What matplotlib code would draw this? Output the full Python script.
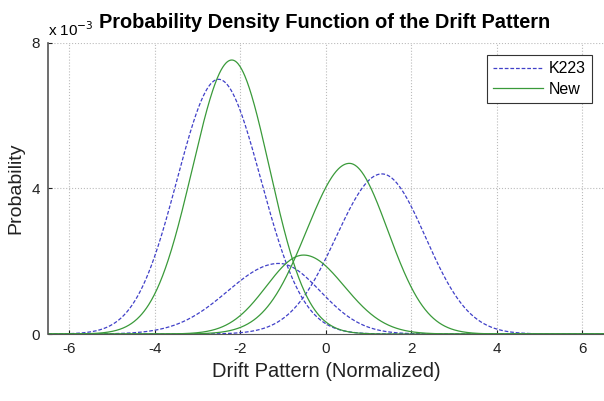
import numpy as np
import matplotlib
matplotlib.use("Agg")
import matplotlib.pyplot as plt

plt.rcParams["font.family"] = ["Liberation Sans", "DejaVu Sans"]

# Component parameters (peak in units of 1e-3);
# left / right spreads read separately since the curves are slightly skewed
k223_means = [-2.51, -1.10, 1.31]
k223_sig_left = [0.97, 1.20, 1.07]
k223_sig_right = [0.99, 0.97, 1.02]
k223_peaks = [7.0, 1.94, 4.4]

new_means = [-2.20, -0.52, 0.55]
new_sig_left = [0.92, 0.87, 1.00]
new_sig_right = [0.88, 0.95, 0.90]
new_peaks = [7.53, 2.17, 4.69]

xticks = [-6, -4, -2, 0, 2, 4, 6]
yticks = [0, 4, 8]

x = np.linspace(-6.5, 6.5, 1000)


def curve(m, sl, sr, p):
    s = np.where(x < m, sl, sr)
    return p * 1e-3 * np.exp(-(x - m) ** 2 / (2 * s ** 2))


fig = plt.figure(figsize=(6.04, 4.01), dpi=100)
ax = fig.add_axes([0.0795, 0.167, 0.92, 0.726])

blue = "#4040c8"
green = "#3a9a3a"
for i in range(len(k223_means)):
    ax.plot(x, curve(k223_means[i], k223_sig_left[i], k223_sig_right[i], k223_peaks[i]),
            color=blue, ls=(0, (3, 1.5)), lw=0.9, label="K223" if i == 0 else None)
for i in range(len(new_means)):
    ax.plot(x, curve(new_means[i], new_sig_left[i], new_sig_right[i], new_peaks[i]),
            color=green, ls="-", lw=0.9, label="New" if i == 0 else None)

ax.set_xlim(-6.5, 6.5)
ax.set_ylim(0, 8e-3)
ax.set_xticks(xticks)
ax.set_xticklabels([str(v) for v in xticks])
ax.set_yticks([v * 1e-3 for v in yticks])
ax.set_yticklabels([str(v) for v in yticks])
ax.tick_params(labelsize=11, length=3, direction="in", colors="#222222", pad=6)
ax.grid(True, ls=":", color="#bbbbbb", lw=0.8)
for side in ["top", "right"]:
    ax.spines[side].set_visible(False)
for side in ["left", "bottom"]:
    ax.spines[side].set_color("#555555")
ax.spines["left"].set_linewidth(1.2)

ax.set_xlabel("Drift Pattern (Normalized)", fontsize=14.5, color="#222222", labelpad=4)
ax.set_ylabel("Probability", fontsize=14, color="#222222", labelpad=5)
fig.text(0.079, 0.925, r"x 10$^{-3}$", fontsize=11, ha="left", va="center")
fig.text(0.537, 0.945, "Probability Density Function of the Drift Pattern",
         fontsize=14.4, fontweight="bold", ha="center", va="center")

leg = ax.legend(loc="upper right", fontsize=11.5, fancybox=False, framealpha=1,
                edgecolor="#333333", handlelength=3.1, handletextpad=0.35,
                borderaxespad=0.75, labelspacing=0.35)
leg.get_frame().set_linewidth(0.8)

fig.savefig("out.png", dpi=100)
